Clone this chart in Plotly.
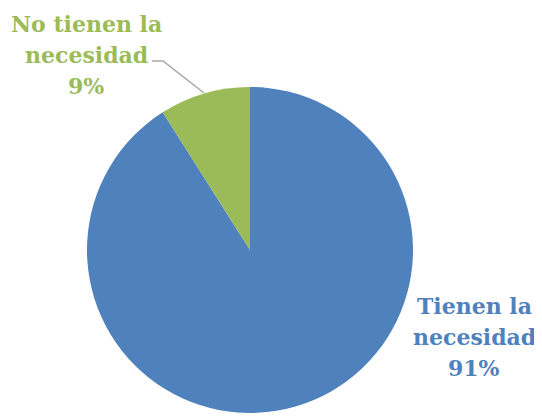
import plotly.graph_objects as go

categories = ["Tienen la necesidad", "No tienen la necesidad"]
values = [91, 9]
colors = ["#4F81BD", "#9BBB59"]
label_lines = [["Tienen la", "necesidad", "91%"], ["No tienen la", "necesidad", "9%"]]

W, H = 542, 416
OFF = 8  # page body margin


def px(x):
    return (x - OFF) / W


def py(y):
    return 1 - (y - OFF) / H


fig = go.Figure(go.Pie(
    labels=categories,
    values=values,
    sort=False,
    direction="clockwise",
    rotation=0,
    marker=dict(colors=colors, line=dict(width=0)),
    textinfo="none",
    hoverinfo="label+percent",
    showlegend=False,
    domain=dict(x=[px(87), px(413)], y=[py(413), py(87)]),
))

font_family = "DejaVu Serif"
FS = 22
LINE_GAP = 31
# (center x, baseline of first line) for each label
anchors = [(474, 313), (86, 31.5)]
for lines, (cx, base), col in zip(label_lines, anchors, colors):
    for i, line in enumerate(lines):
        fig.add_annotation(x=px(cx), y=py(base + i * LINE_GAP - 7.5),
                           xref="paper", yref="paper",
                           text="<b>" + line + "</b>", showarrow=False,
                           font=dict(family=font_family, size=FS, color=col),
                           align="center", xanchor="center", yanchor="middle",
                           borderpad=0)

# leader line
fig.add_shape(type="path", xref="paper", yref="paper",
              path=f"M {px(152)} {py(61)} L {px(163)} {py(61)} L {px(204)} {py(93)}",
              line=dict(color="#A6A6A6", width=1.5))

fig.update_layout(width=W, height=H, margin=dict(l=0, r=0, t=0, b=0),
                  paper_bgcolor="white", plot_bgcolor="white")
fig.write_html("out.html")
